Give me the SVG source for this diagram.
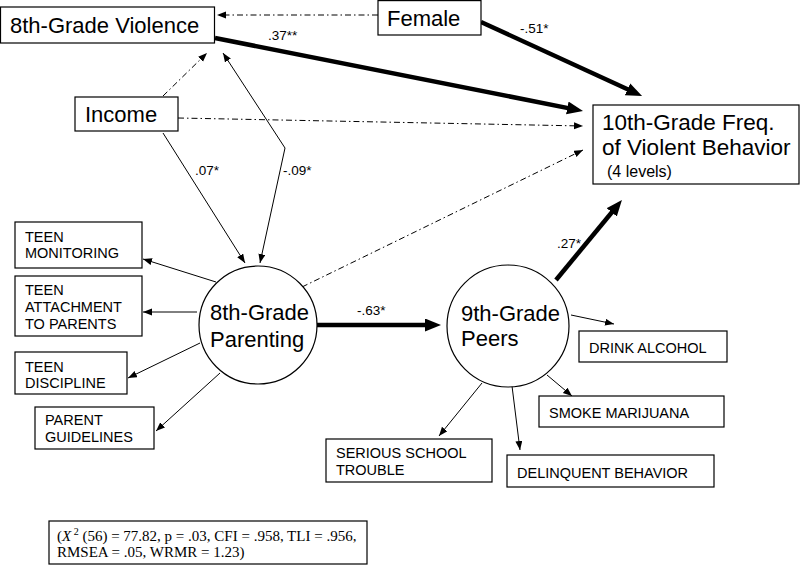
<svg xmlns="http://www.w3.org/2000/svg" width="800" height="566" viewBox="0 0 800 566">
<style>
  .box { fill: #fff; stroke: #000; stroke-width: 1.2; }
  .circ { fill: #fff; stroke: #000; stroke-width: 1.2; }
  .big { font-family: "Liberation Sans", Arial, sans-serif; font-size: 22px; fill: #000; }
  .sm { font-family: "Liberation Sans", Arial, sans-serif; font-size: 14.5px; fill: #000; }
  .lbl { font-family: "Liberation Sans", Arial, sans-serif; font-size: 13.5px; fill: #000; }
  .stat { font-family: "Liberation Serif", "Times New Roman", serif; font-size: 15px; fill: #000; }
  .thin { fill: none; stroke: #000; stroke-width: 1; marker-end: url(#ah); }
  .dd { fill: none; stroke: #000; stroke-width: 1; stroke-dasharray: 6 3 1.5 3; marker-end: url(#ah); }
  .thick { fill: none; stroke: #000; stroke-width: 4.5; marker-end: url(#ahb); }
</style>
<defs>
  <marker id="ah" markerUnits="userSpaceOnUse" markerWidth="10" markerHeight="8" refX="9" refY="3.5" orient="auto-start-reverse">
    <path d="M0,0 L9,3.5 L0,7 z" fill="#000"/>
  </marker>
  <marker id="ahb" markerUnits="userSpaceOnUse" markerWidth="18" markerHeight="14" refX="6" refY="6.5" orient="auto">
    <path d="M0,0 L16,6.5 L0,13 z" fill="#000"/>
  </marker>
</defs>
<rect width="800" height="566" fill="#fff"/>

<g id="connectors">
  <line class="dd" x1="378" y1="15" x2="217" y2="15"/>
  <line class="thick" x1="215" y1="38" x2="573.2" y2="109.1"/>
  <line class="thick" x1="481" y1="22" x2="633" y2="91.8"/>
  <line class="dd" x1="178" y1="118" x2="583" y2="126"/>
  <line class="dd" x1="302" y1="287" x2="583" y2="150"/>
  <line class="dd" x1="163" y1="96" x2="207" y2="53"/>
  <polyline class="thin" points="223,53 285,148 260,263" style="marker-start:url(#ah)"/>
  <line class="thin" x1="163" y1="133" x2="245" y2="263"/>
  <line class="thin" x1="216" y1="282" x2="143" y2="259"/>
  <line class="thin" x1="197" y1="312" x2="143" y2="312"/>
  <line class="thin" x1="200" y1="343" x2="128" y2="378"/>
  <line class="thin" x1="220" y1="373" x2="156" y2="431"/>
  <line class="thick" x1="317" y1="325" x2="431" y2="325"/>
  <line class="thick" x1="556" y1="280" x2="615.6" y2="207.7"/>
  <line class="thin" x1="571" y1="315" x2="614" y2="324"/>
  <line class="thin" x1="547" y1="375" x2="572" y2="396"/>
  <line class="thin" x1="512" y1="386" x2="520" y2="450"/>
  <line class="thin" x1="482" y1="383" x2="439" y2="436"/>
  <text class="lbl" x="268" y="40">.37**</text>
  <text class="lbl" x="520" y="33">-.51*</text>
  <text class="lbl" x="195" y="175">.07*</text>
  <text class="lbl" x="283" y="175">-.09*</text>
  <text class="lbl" x="357" y="315">-.63*</text>
  <text class="lbl" x="557" y="248">.27*</text>
</g>

<g id="violence8">
  <rect class="box" x="0.5" y="7" width="214" height="36"/>
  <text class="big" x="10" y="33">8th-Grade Violence</text>
</g>
<g id="female">
  <rect class="box" x="378" y="0.6" width="103" height="34.4"/>
  <text class="big" x="387" y="26">Female</text>
</g>
<g id="income">
  <rect class="box" x="75" y="97" width="103" height="34"/>
  <text class="big" x="85" y="122">Income</text>
</g>
<g id="violence10">
  <rect class="box" x="593" y="105" width="206" height="79"/>
  <text class="big" x="602" y="130" style="font-size:22.5px">10th-Grade Freq.</text>
  <text class="big" x="602" y="155" style="font-size:22.5px">of Violent Behavior</text>
  <text class="big" x="607" y="177" style="font-size:16px">(4 levels)</text>
</g>
<g id="parenting">
  <circle class="circ" cx="258" cy="325" r="59"/>
  <text class="big" x="210" y="320">8th-Grade</text>
  <text class="big" x="210" y="347">Parenting</text>
</g>
<g id="peers">
  <circle class="circ" cx="508" cy="326" r="61"/>
  <text class="big" x="461" y="321">9th-Grade</text>
  <text class="big" x="461" y="346">Peers</text>
</g>
<g id="monitoring">
  <rect class="box" x="15" y="222" width="127" height="46"/>
  <text class="sm" x="25" y="242">TEEN</text>
  <text class="sm" x="25" y="258">MONITORING</text>
</g>
<g id="attachment">
  <rect class="box" x="15" y="276" width="127" height="60"/>
  <text class="sm" x="25" y="295">TEEN</text>
  <text class="sm" x="25" y="312">ATTACHMENT</text>
  <text class="sm" x="25" y="329">TO PARENTS</text>
</g>
<g id="discipline">
  <rect class="box" x="15" y="352" width="112" height="42"/>
  <text class="sm" x="25" y="372">TEEN</text>
  <text class="sm" x="25" y="388">DISCIPLINE</text>
</g>
<g id="guidelines">
  <rect class="box" x="35" y="407" width="119" height="42"/>
  <text class="sm" x="45" y="425">PARENT</text>
  <text class="sm" x="45" y="442">GUIDELINES</text>
</g>
<g id="alcohol">
  <rect class="box" x="579" y="331" width="148" height="31"/>
  <text class="sm" x="589" y="353">DRINK ALCOHOL</text>
</g>
<g id="marijuana">
  <rect class="box" x="539" y="396" width="185" height="31"/>
  <text class="sm" x="549" y="418">SMOKE MARIJUANA</text>
</g>
<g id="school">
  <rect class="box" x="326" y="439" width="166" height="43"/>
  <text class="sm" x="336" y="458">SERIOUS SCHOOL</text>
  <text class="sm" x="336" y="475">TROUBLE</text>
</g>
<g id="delinquent">
  <rect class="box" x="507" y="455" width="207" height="32"/>
  <text class="sm" x="517" y="478">DELINQUENT BEHAVIOR</text>
</g>
<g id="fit">
  <rect class="box" x="49" y="521" width="318" height="43"/>
  <text class="stat" x="57" y="541">(<tspan font-style="italic">X</tspan><tspan font-size="10" dy="-6"> 2</tspan><tspan dy="6"> (56) = 77.82, p = .03, CFI = .958, TLI = .956,</tspan></text>
  <text class="stat" x="57" y="557">RMSEA = .05, WRMR = 1.23)</text>
</g>
</svg>
